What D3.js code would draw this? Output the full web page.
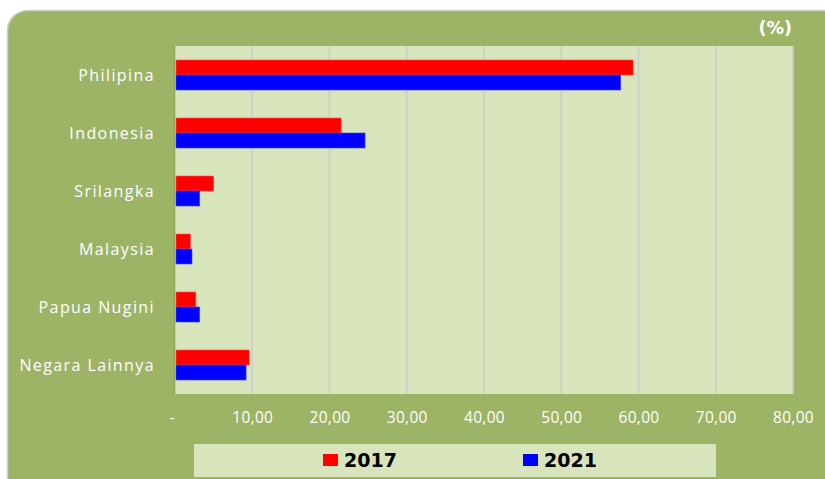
<!DOCTYPE html>
<html><head><meta charset="utf-8">
<script src="https://cdn.jsdelivr.net/npm/d3@7"></script>
<style>body{margin:0;background:#fff;}svg{display:block;font-family:"Open Sans",sans-serif;}</style>
</head><body>
<svg id="c" width="825" height="479"></svg>
<script>
const categories = ["Philipina","Indonesia","Srilangka","Malaysia","Papua Nugini","Negara Lainnya"];
const series = ["2017","2021"];
const values2017 = [59.3, 21.5, 5.0, 2.0, 2.7, 9.6];
const values2021 = [57.7, 24.6, 3.2, 2.2, 3.2, 9.2];
const tickValues = [0,10,20,30,40,50,60,70,80];
const tickLabels = ["-","10,00","20,00","30,00","40,00","50,00","60,00","70,00","80,00"];
const colors = ["#FF0000","#0000FF"];

const svg = d3.select("#c");
const green = "#9DB466";
svg.append("rect").attr("x",7.5).attr("y",10.5).attr("width",840).attr("height",490)
  .attr("rx",20).attr("fill",green).attr("stroke","#cfcfcf").attr("stroke-width",1.5);

const plot = {l:175, r:793, t:46, b:394};
const x = d3.scaleLinear().domain([0,80]).range([plot.l, plot.r]);
const y = d3.scaleBand().domain(categories).range([plot.t, plot.b]).paddingInner(0.483).paddingOuter(0.2415);
const ys = d3.scaleBand().domain(series).range([0, y.bandwidth()]);

svg.append("rect").attr("x",plot.l).attr("y",plot.t).attr("width",plot.r-plot.l).attr("height",plot.b-plot.t).attr("fill","#D8E4BC");
svg.append("g").selectAll("line").data(tickValues.slice(1)).join("line")
  .attr("x1",d=>x(d)).attr("x2",d=>x(d)).attr("y1",plot.t).attr("y2",plot.b)
  .attr("stroke","#CCCCCC").attr("stroke-width",1.5);
svg.append("line").attr("x1",plot.l-0.5).attr("x2",plot.l-0.5).attr("y1",plot.t).attr("y2",plot.b).attr("stroke","#8EA65A").attr("stroke-width",1.5);

const data = categories.map((c,i)=>({c, v:[values2017[i], values2021[i]]}));
const g = svg.append("g");
data.forEach(d=>{
  series.forEach((s,j)=>{
    g.append("rect").attr("x",x(0)+1).attr("y",y(d.c)+ys(s))
      .attr("width",x(d.v[j])-x(0)-1).attr("height",ys.bandwidth())
      .attr("fill",colors[j]).attr("stroke",j===0?"#FF5050":"#4040FF").attr("stroke-width",0.6);
  });
});

svg.append("g").selectAll("text").data(categories).join("text")
  .attr("x",155).attr("y",d=>y(d)+y.bandwidth()/2).attr("dy","0.36em")
  .attr("text-anchor","end").attr("fill","#fff").attr("font-size",16)
  .attr("letter-spacing","1.4px").text(d=>d);

const xAxis = d3.axisBottom(x).tickValues(tickValues).tickFormat((d,i)=>tickLabels[i]).tickSize(0).tickPadding(0);
const ax = svg.append("g").attr("transform",`translate(0,${plot.b})`).call(xAxis);
ax.select(".domain").remove();
ax.selectAll("text").attr("fill","#fff").attr("font-size",15.5).attr("font-family","'Open Sans',sans-serif")
  .attr("letter-spacing","0.3px").attr("y",23).attr("dy","0.36em");
ax.selectAll(".tick").filter((d,i)=>i===0).select("text").attr("dx",-3);

svg.append("text").attr("x",792).attr("y",28).attr("dy","0.36em").attr("text-anchor","end")
  .attr("fill","#fff").attr("font-weight","bold").attr("font-size",17.5).attr("font-family","'DejaVu Sans',sans-serif").text("(%)");

svg.append("rect").attr("x",194).attr("y",444).attr("width",522).attr("height",33).attr("fill","#D8E4BC");
const lx = [323, 523];
series.forEach((s,j)=>{
  svg.append("rect").attr("x",lx[j]).attr("y",454).attr("width",15).attr("height",12).attr("fill",colors[j]);
  svg.append("text").attr("x",lx[j]+21).attr("y",460).attr("dy","0.36em").attr("font-weight","bold")
    .attr("font-family","'DejaVu Sans',sans-serif").attr("font-size",19).attr("fill","#000").text(s);
});
</script>
</body></html>
